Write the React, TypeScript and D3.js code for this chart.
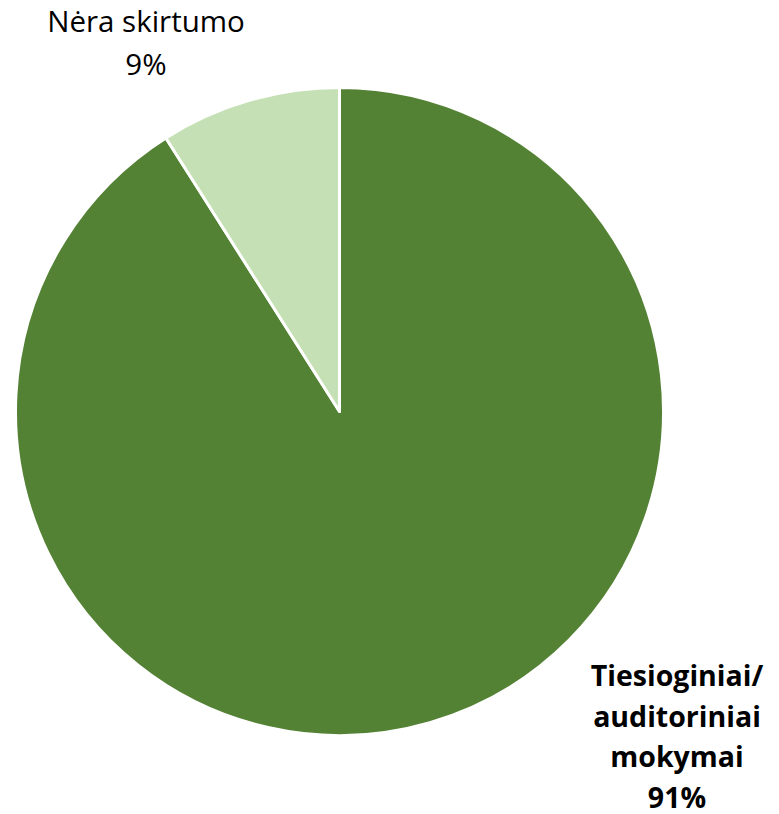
import React, { useRef, useEffect } from 'react';
import * as d3 from 'd3';

const categories = ['Tiesioginiai/auditoriniai mokymai', 'Nėra skirtumo'];
const values = [91, 9];
const colors = ['#548235', '#C5E0B4'];

const App: React.FC = () => {
  const svgRef = useRef<SVGSVGElement>(null);

  useEffect(() => {
    if (!svgRef.current) return;
    const svg = d3.select(svgRef.current);
    svg.selectAll('*').remove();

    const width = 779;
    const height = 814;
    const cx = 339.5;
    const cy = 411.5;
    const radius = 324;

    svg.attr('width', width).attr('height', height);

    const g = svg.append('g').attr('transform', `translate(${cx},${cy})`);

    const pie = d3.pie<number>().value(d => d).sort(null);
    const arc = d3.arc<d3.PieArcDatum<number>>().innerRadius(0).outerRadius(radius);

    g.selectAll('path')
      .data(pie(values))
      .enter().append('path')
      .attr('d', arc)
      .attr('fill', (_, i) => colors[i])
      .attr('stroke', '#fff')
      .attr('stroke-width', 3)
      .attr('stroke-linejoin', 'round');

    const font = '"Open Sans", "Noto Sans", sans-serif';

    // small slice label, top left
    const small = svg.append('text')
      .attr('text-anchor', 'middle')
      .attr('font-family', font)
      .attr('font-size', 29.5)
      .attr('fill', '#000');
    [categories[1], `${values[1]}%`].forEach((t, i) => {
      small.append('tspan').attr('x', 146).attr('y', 32 + i * 43).text(t);
    });

    // big slice label, bottom right
    const big = svg.append('text')
      .attr('text-anchor', 'middle')
      .attr('font-family', font)
      .attr('font-size', 28.5)
      .attr('font-weight', 'bold')
      .attr('fill', '#000');
    ['Tiesioginiai/', 'auditoriniai', 'mokymai', `${values[0]}%`].forEach((t, i) => {
      big.append('tspan').attr('x', 677).attr('y', 686 + i * 40.5).text(t);
    });
  }, []);

  return <svg ref={svgRef} style={{ display: 'block', position: 'absolute', left: 0, top: 0 }}></svg>;
};

export default App;
